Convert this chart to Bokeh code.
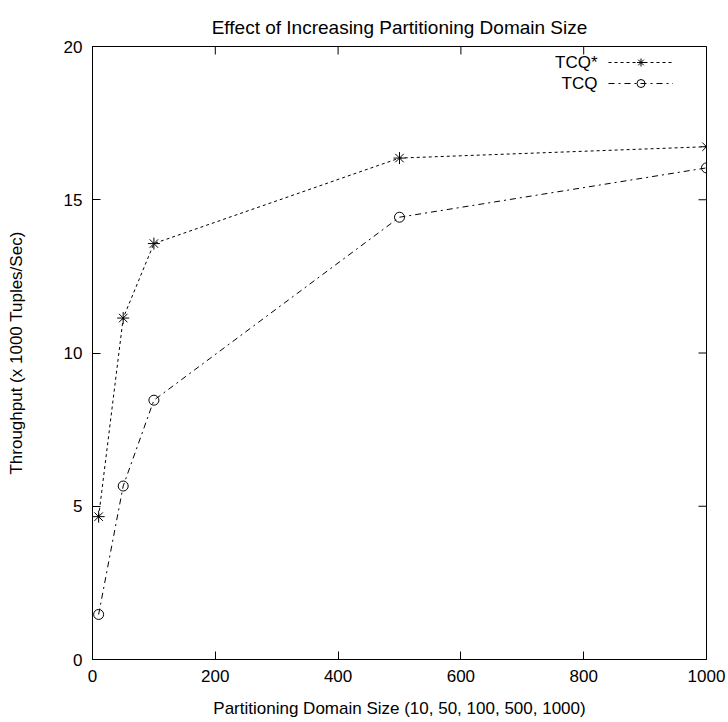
import math
from bokeh.plotting import figure
from bokeh.models import LinearAxis, FixedTicker, Legend, LegendItem, Label, Range1d
from bokeh.core.properties import value
from bokeh.embed import file_html
from bokeh.resources import INLINE

# ---- data ----
sizes = [10, 50, 100, 500, 1000]
tcq_star = [4.66, 11.14, 13.57, 16.36, 16.73]
tcq = [1.47, 5.66, 8.46, 14.43, 16.04]
series_names = ["TCQ*", "TCQ"]
x_ticks = [0, 200, 400, 600, 800, 1000]
y_ticks = [0, 5, 10, 15, 20]
title_text = "Effect of Increasing Partitioning Domain Size"
x_label = "Partitioning Domain Size (10, 50, 100, 500, 1000)"
y_label = "Throughput (x 1000 Tuples/Sec)"

FONT = "Liberation Sans"
FS = "17px"

p = figure(width=728, height=722, output_backend="svg", toolbar_location=None,
           x_range=Range1d(x_ticks[0], x_ticks[-1]), y_range=Range1d(y_ticks[0], y_ticks[-1]),
           min_border_left=92, min_border_right=22, min_border_top=46, min_border_bottom=63,
           x_axis_location=None, y_axis_location=None)
p.grid.visible = False
p.outline_line_color = "black"
p.outline_line_width = 1
p.background_fill_color = "white"
p.border_fill_color = "white"

p.title.text = title_text
p.title.align = "center"
p.title.text_font = FONT
p.title.text_font_size = "19px"
p.title.text_font_style = "normal"
p.title.text_color = "black"
p.title.standoff = 18


def make_axis(ticks, label, label_standoff, tick_standoff):
    ax = LinearAxis(ticker=FixedTicker(ticks=ticks))
    ax.major_tick_in = 8
    ax.major_tick_out = 0
    ax.minor_tick_line_color = None
    ax.axis_line_color = "black"
    ax.major_tick_line_color = "black"
    ax.major_label_text_font = FONT
    ax.major_label_text_color = "black"
    ax.major_label_text_font_size = FS
    ax.major_label_standoff = tick_standoff
    ax.axis_label = label
    ax.axis_label_text_font = FONT
    ax.axis_label_text_font_size = FS
    ax.axis_label_text_font_style = "normal"
    ax.axis_label_text_color = "black"
    ax.axis_label_standoff = label_standoff
    return ax


p.add_layout(make_axis(x_ticks, x_label, 14, 10), "below")
p.add_layout(make_axis(y_ticks, y_label, 35, 10), "left")

# mirrored inward ticks on the top and right edges (half of each dash is clipped by the frame)
p.scatter(x_ticks, [y_ticks[-1]] * len(x_ticks), marker="dash", size=16,
          angle=math.pi / 2, line_color="black", line_width=1)
p.scatter([x_ticks[-1]] * len(y_ticks), y_ticks, marker="dash", size=16,
          line_color="black", line_width=1)

r1 = p.line(sizes, tcq_star, line_color="black", line_width=1, line_dash="3 3")
s1 = p.scatter(sizes, tcq_star, marker="asterisk", size=12, line_color="black", line_width=1)
r2 = p.line(sizes, tcq, line_color="black", line_width=1, line_dash="6 4 2 4")
s2 = p.scatter(sizes, tcq, marker="circle", size=10, line_color="black",
               fill_color=None, line_width=1)

legend = Legend(items=[LegendItem(label=value(" "), renderers=[r1, s1]),
                       LegendItem(label=value(" "), renderers=[r2, s2])],
                location=(516, 566), glyph_width=65, glyph_height=20,
                label_width=0, label_height=20, label_standoff=0, padding=0, spacing=1,
                margin=0, border_line_color=None, background_fill_alpha=0,
                label_text_font_size=FS)
p.add_layout(legend)

for name, yy in zip(series_names, [597, 576]):
    p.add_layout(Label(x=505, y=yy, x_units="screen", y_units="screen", text=name,
                       text_align="right", text_baseline="middle",
                       text_font=FONT, text_font_size=FS, text_color="black"))

open("out.html", "w").write(file_html(p, INLINE))
